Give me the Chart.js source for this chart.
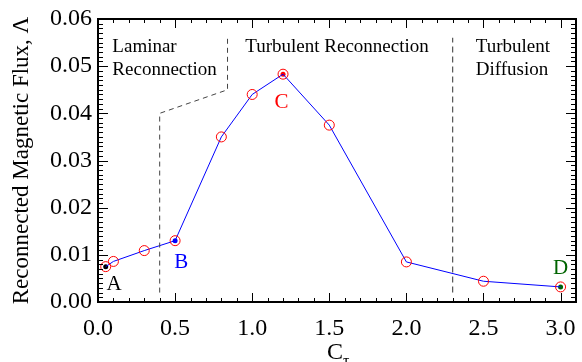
<!DOCTYPE html>
<html>
<head>
<meta charset="utf-8">
<script src="https://cdn.jsdelivr.net/npm/chart.js@4.4.1/dist/chart.umd.min.js"></script>
<style>
  html, body { margin: 0; padding: 0; background: #fff; }
</style>
</head>
<body>
<canvas id="fluxChart" width="582" height="362"></canvas>
<script>
// C_tau runs and the reconnected flux
const cTau = [0.05, 0.1, 0.3, 0.5, 0.8, 1.0, 1.2, 1.5, 2.0, 2.5, 3.0];
const flux = [0.0075, 0.0086, 0.0109, 0.0130, 0.0350, 0.0440, 0.0483, 0.0375, 0.0085, 0.0044, 0.0032];

// highlighted runs A-D (index into cTau/flux)
const caseNames  = ["A", "B", "C", "D"];
const caseIndex  = [0, 3, 6, 10];
const caseColors = ["#000000", "#0000ff", "#ff0000", "#006400"];

// dashed regime boundaries
const laminarEdgeX = [0.4, 0.4, 0.84, 0.84];
const laminarEdgeY = [0.002, 0.040, 0.045, 0.056];
const diffusionEdgeX = [2.3, 2.3];
const diffusionEdgeY = [0.002, 0.056];

// region captions: [text lines, x, y of first baseline, align]
const regions = [
  [["Laminar", "Reconnection"], 0.093, 0.0529, "left"],
  [["Turbulent Reconnection"], 1.55, 0.0529, "center"],
  [["Turbulent", "Diffusion"], 2.45, 0.0529, "left"]
];
// case letter placement (data coords of baseline centre)
const caseLabelX = [0.105, 0.54, 1.19, 3.0];
const caseLabelY = [0.0026, 0.0073, 0.0411, 0.0060];

const SERIF = "'Liberation Serif', 'DejaVu Serif', serif";

const pts = (xs, ys) => xs.map((v, i) => ({ x: v, y: ys[i] }));

const decor = {
  id: "decor",
  afterDraw(chart) {
    const { ctx, chartArea: a, scales: { x, y } } = chart;
    ctx.save();

    // inward ticks on all four sides
    ctx.strokeStyle = "#000";
    ctx.lineWidth = 1;
    ctx.beginPath();
    for (let i = 0; i <= 31; i++) {
      const px = Math.round(x.getPixelForValue(i / 10)) + 0.5;
      const len = i % 5 === 0 ? 9 : 4;
      ctx.moveTo(px, a.bottom); ctx.lineTo(px, a.bottom - len);
      ctx.moveTo(px, a.top);    ctx.lineTo(px, a.top + len);
    }
    for (let i = 0; i <= 60; i++) {
      const py = Math.round(y.getPixelForValue(i / 1000)) + 0.5;
      const len = i % 10 === 0 ? 10 : 5;
      ctx.moveTo(a.left, py);  ctx.lineTo(a.left + len, py);
      ctx.moveTo(a.right, py); ctx.lineTo(a.right - len, py);
    }
    ctx.stroke();

    // frame
    ctx.lineWidth = 2;
    ctx.strokeRect(a.left, a.top, a.right - a.left, a.bottom - a.top);

    // region captions
    ctx.fillStyle = "#000";
    ctx.font = "19px " + SERIF;
    ctx.textBaseline = "alphabetic";
    regions.forEach(([lines, rx, ry, align]) => {
      ctx.textAlign = align;
      const px = x.getPixelForValue(rx);
      const py = y.getPixelForValue(ry);
      lines.forEach((t, k) => ctx.fillText(t, px, py + k * 23));
    });

    // case letters
    ctx.font = "21px " + SERIF;
    ctx.textAlign = "center";
    caseNames.forEach((n, i) => {
      ctx.fillStyle = caseColors[i];
      ctx.fillText(n, x.getPixelForValue(caseLabelX[i]), y.getPixelForValue(caseLabelY[i]));
    });

    // axis titles
    ctx.fillStyle = "#000";
    ctx.font = "23px " + SERIF;
    ctx.textAlign = "center";
    ctx.textBaseline = "middle";
    ctx.save();
    ctx.translate(22, (a.top + a.bottom) / 2);
    ctx.rotate(-Math.PI / 2);
    ctx.fillText("Reconnected Magnetic Flux, \u039b", 0, 0);
    ctx.restore();

    const cx = (a.left + a.right) / 2;
    ctx.font = "24px " + SERIF;
    ctx.textBaseline = "alphabetic";
    ctx.textAlign = "right";
    ctx.fillText("C", cx + 6, 359);
    ctx.font = "16px " + SERIF;
    ctx.textAlign = "left";
    ctx.fillText("\u03c4", cx + 6, 366);
    ctx.restore();
  }
};

new Chart(document.getElementById("fluxChart"), {
  type: "scatter",
  data: {
    datasets: [
      {
        data: pts(laminarEdgeX, laminarEdgeY),
        showLine: true,
        borderColor: "#444",
        borderWidth: 1,
        borderDash: [5, 4],
        pointRadius: 0
      },
      {
        data: pts(diffusionEdgeX, diffusionEdgeY),
        showLine: true,
        borderColor: "#555",
        borderWidth: 1.2,
        borderDash: [6, 4],
        pointRadius: 0
      },
      {
        data: pts(cTau, flux),
        showLine: true,
        borderColor: "#0000ff",
        borderWidth: 1,
        pointRadius: 5,
        pointBorderColor: "#ff0000",
        pointBackgroundColor: "rgba(0,0,0,0)",
        pointBorderWidth: 1
      },
      {
        data: caseIndex.map(i => ({ x: cTau[i], y: flux[i] })),
        showLine: false,
        pointRadius: 2.5,
        pointBorderWidth: 0,
        pointBackgroundColor: caseColors,
        pointBorderColor: caseColors
      }
    ]
  },
  options: {
    responsive: false,
    animation: false,
    devicePixelRatio: 1,
    layout: { padding: { top: 19, right: 4, left: 0, bottom: 0 } },
    plugins: { legend: { display: false }, tooltip: { enabled: false } },
    scales: {
      x: {
        type: "linear",
        min: 0,
        max: 3.1,
        grid: { display: false, drawTicks: false },
        border: { display: false },
        ticks: {
          stepSize: 0.5,
          includeBounds: false,
          autoSkip: false,
          maxRotation: 0,
          padding: 12,
          color: "#000",
          font: { family: SERIF, size: 24 },
          callback: v => Number(v).toFixed(1)
        },
        afterFit: s => { s.height = 60; s.paddingLeft = 0; s.paddingRight = 0; }
      },
      y: {
        min: 0,
        max: 0.06,
        grid: { display: false, drawTicks: false },
        border: { display: false },
        ticks: {
          stepSize: 0.01,
          autoSkip: false,
          padding: 6,
          color: "#000",
          font: { family: SERIF, size: 24 },
          callback: v => Number(v).toFixed(2)
        },
        afterFit: s => { s.width = 98; s.paddingTop = 0; s.paddingBottom = 0; }
      }
    }
  },
  plugins: [decor]
});
</script>
</body>
</html>
